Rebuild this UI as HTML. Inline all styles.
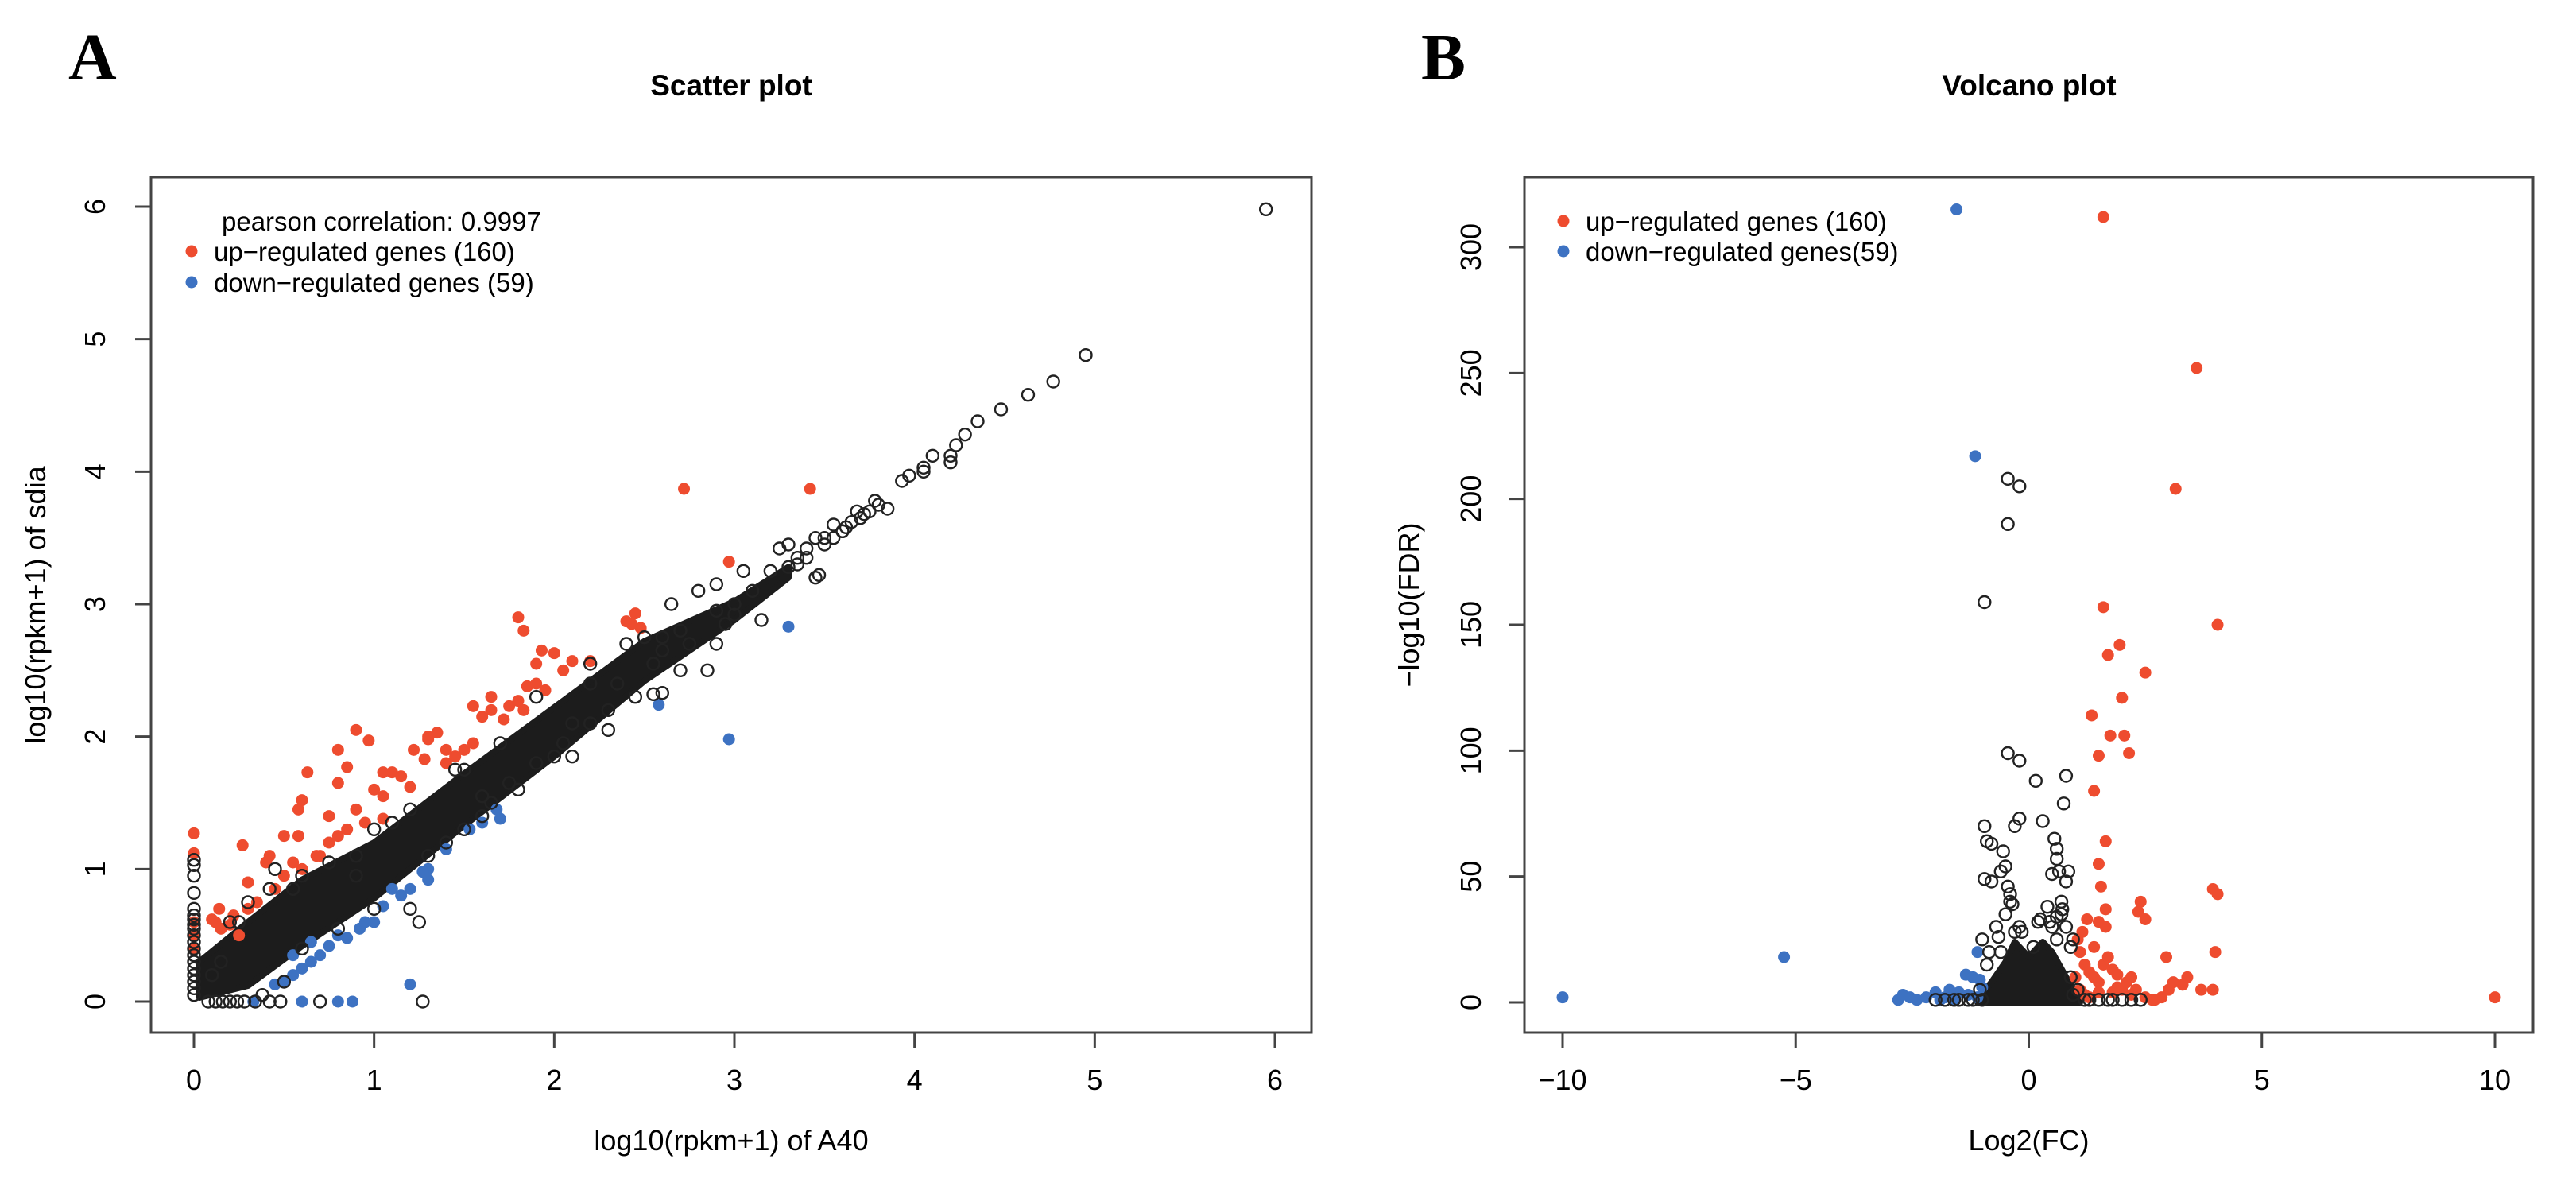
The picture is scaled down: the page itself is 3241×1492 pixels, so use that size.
<!DOCTYPE html>
<html><head><meta charset="utf-8"><style>
html,body{margin:0;padding:0;background:#fff;}
svg{display:block;font-family:"Liberation Sans",sans-serif;}
</style></head><body>
<svg id="fig" width="3241" height="1492" viewBox="0 0 3241 1492">
<text x="86" y="100" font-family="Liberation Serif,serif" font-weight="bold" font-size="84">A</text>
<text x="1788" y="100" font-family="Liberation Serif,serif" font-weight="bold" font-size="84">B</text>
<text x="920" y="120" text-anchor="middle" font-weight="bold" font-size="37">Scatter plot</text>
<text x="2553" y="120" text-anchor="middle" font-weight="bold" font-size="37">Volcano plot</text>
<g id="pa"></g>
<g id="pb"></g>
</svg>
<script>
// ---------- Panel A data ----------
const aXTicks=[0,1,2,3,4,5,6];
const aYTicks=[0,1,2,3,4,5,6];
const aBandX=[0.03,0.3,0.6,1.0,1.5,2.0,2.5,3.0,3.3];
const aBandLo=[0.03,0.12,0.42,0.78,1.33,1.85,2.42,2.88,3.2];
const aBandHi=[0.3,0.6,0.92,1.2,1.72,2.22,2.72,3.02,3.28];
const aBlackX=[5.95,4.95,4.77,4.63,4.48,4.35,4.28,4.23,4.2,4.2,4.1,4.05,4.05,3.97,3.93,3.8,3.75,3.85,3.7,3.6,3.55,3.5,3.45,3.3,3.25,3.4,3.35,3.45,3.47,3.15,3.0,2.85,2.55,2.6,2.45,2.3,2.2,2.0,1.9,1.75,1.65,1.5,1.3,1.25,1.2,1.27,2.65,2.8,2.9,3.05,2.4,2.5,2.2,1.5,1.7,1.1,0.9,0.75,0.55,0.9,0.45,0.42,0,0,0,0,0,0,0,0,0,0,0,0,0,0,0,0,0,0,0,0.08,0.12,0.16,0.2,0.24,0.28,0.34,0.42,0.48,0.7,
 3.35,3.5,3.6,3.65,3.72,3.78,3.4,3.3,3.55,3.62,3.68,3.2,3.1,3.0,2.9,2.75,2.7,2.6,2.35,2.1,2.55,2.95,1.8,2.1,2.3,1.6,1.4,1.0,0.8,0.6,2.7,2.9,1.0,1.2,0.6,0.3,0.2,2.2,2.6,1.9,1.45,0.15,0.1,0.38,0.5,0.25,1.6,2.05];
const aBlackY=[5.98,4.88,4.68,4.58,4.47,4.38,4.28,4.2,4.12,4.07,4.12,4.0,4.03,3.97,3.93,3.75,3.7,3.72,3.65,3.55,3.6,3.5,3.5,3.45,3.42,3.35,3.3,3.2,3.22,2.88,2.92,2.5,2.32,2.33,2.3,2.2,2.1,1.85,1.8,1.65,1.5,1.3,1.1,0.6,0.7,0.0,3.0,3.1,3.15,3.25,2.7,2.75,2.55,1.75,1.95,1.35,1.1,1.05,0.85,0.95,1.0,0.85,1.07,1.03,0.95,0.82,0.7,0.62,0.55,0.45,0.35,0.25,0.2,0.15,0.1,0.05,0.3,0.4,0.5,0.58,0.65,0,0,0,0,0,0,0,0,0,0,
 3.35,3.45,3.55,3.62,3.68,3.78,3.42,3.28,3.5,3.58,3.7,3.25,3.1,3.0,2.95,2.7,2.8,2.65,2.4,2.1,2.55,2.85,1.6,1.85,2.05,1.4,1.2,0.7,0.55,0.4,2.5,2.7,1.3,1.45,0.95,0.75,0.6,2.4,2.75,2.3,1.75,0.3,0.2,0.05,0.15,0.6,1.55,1.95];
const aRedX=[2.72,3.42,2.97,1.8,1.83,2.45,2.4,2.48,2.43,1.93,2.0,2.2,2.1,2.05,1.9,1.65,1.55,1.6,1.65,1.75,1.8,1.85,1.9,1.95,1.83,1.72,0.9,0.97,1.3,1.35,1.3,1.22,1.28,1.4,0.8,0.85,1.05,1.1,0.63,0.6,0.58,0.8,1.0,1.05,1.15,1.2,0.75,0.9,0.95,1.05,0.5,0.58,0.42,0.4,0.27,0.3,0.55,0.6,0.68,0.75,0,0,0,0,0,0.12,0.1,0.14,0.15,0.2,0.22,0.25,0.3,0.35,0.45,0.5,0.7,0.8,0.85,1.4,1.5,1.55,1.45];
const aRedY=[3.87,3.87,3.32,2.9,2.8,2.93,2.87,2.82,2.85,2.65,2.63,2.57,2.57,2.5,2.55,2.3,2.23,2.15,2.2,2.23,2.27,2.38,2.4,2.35,2.2,2.13,2.05,1.97,2.0,2.03,1.98,1.9,1.83,1.9,1.9,1.77,1.73,1.73,1.73,1.52,1.45,1.65,1.6,1.55,1.7,1.62,1.4,1.45,1.35,1.38,1.25,1.25,1.1,1.05,1.18,0.9,1.05,1.0,1.1,1.2,1.27,1.12,0.6,0.5,0.4,0.6,0.62,0.7,0.55,0.58,0.65,0.5,0.7,0.75,0.85,0.95,1.1,1.25,1.3,1.8,1.9,1.95,1.85];
const aBlueX=[3.3,2.97,2.58,1.2,0.88,0.8,0.6,0.33,1.53,1.6,1.7,1.68,1.4,1.3,1.27,1.3,1.1,1.05,1.0,0.92,0.95,0.8,0.75,0.7,0.65,0.6,0.55,0.5,0.45,0.55,0.65,0.85,1.2,1.15];
const aBlueY=[2.83,1.98,2.24,0.13,0.0,0.0,0.0,0.0,1.3,1.35,1.38,1.45,1.15,1.0,0.98,0.92,0.85,0.72,0.6,0.55,0.6,0.5,0.42,0.35,0.3,0.25,0.2,0.15,0.13,0.35,0.45,0.48,0.85,0.8];
// ---------- Panel B data ----------
const bXTicks=[-10,-5,0,5,10];
const bYTicks=[0,50,100,150,200,250,300];
const bCoreX=[-1.1,-0.8,-0.5,-0.3,0,0.3,0.5,0.8,1.1];
const bCoreTop=[1,8,16,24,18,24,20,10,1];
const bBlackX=[-0.45,-0.2,-0.45,-0.95,-0.45,-0.2,0.15,0.8,0.75,-0.95,-0.3,-0.2,0.3,0.55,0.6,-0.9,-0.8,-0.55,-0.5,-0.6,0.6,0.5,0.65,0.85,0.8,-0.95,-0.8,-0.45,-0.4,-0.4,-0.35,0.7,0.72,0.6,0.25,0.2,-1.0,-0.65,-0.2,-0.15,0.5,0.9,0.95,-1.8,-2,-1.5,-1.2,1.2,1.5,2,2.4,1.8,-1.0,0.95,-0.85,
 -0.9,-0.7,0.8,0.9,-1.05,1.05,-0.5,0.4,0.7,-0.6,0.6,-0.3,0.1,0.45,-1.3,1.3,-1.6,1.7,2.2];
const bBlackY=[208,205,190,159,99,96,88,90,79,70,70,73,72,65,61,64,63,60,54,52,57,51,52,52,48,49,48,46,43,40,39,40,37,34,33,32,25,26,30,28,30,22,25,1,1,1,1,1,1,1,1,1,1,3,20,
 15,30,30,10,5,5,35,38,35,20,25,28,22,32,1,1,1,1,1];
const bRedX=[1.6,3.6,3.15,1.6,4.05,1.95,1.7,2.5,2.0,1.35,1.75,2.05,1.5,2.15,1.4,1.65,1.5,1.55,3.95,4.05,2.4,2.35,1.65,2.5,1.25,1.5,1.65,4.0,2.95,3.4,3.3,3.95,3.7,3.1,3.0,2.85,2.65,2.7,10,1.1,1.2,1.3,1.4,1.5,1.6,1.7,1.8,1.9,2.0,2.1,2.2,1.1,1.2,1.3,1.5,1.8,1.0,1.05,1.15,1.4,2.3,2.5,2.2,1.9];
const bRedY=[312,252,204,157,150,142,138,131,121,114,106,106,98,99,84,64,55,46,45,43,40,36,37,33,33,32,30,20,18,10,7,5,5,8,5,2,1,1,2,20,15,12,10,8,15,18,13,11,5,8,3,5,3,2,4,4,10,25,28,22,5,2,10,6];
const bBlueX=[-1.55,-1.15,-5.25,-10,-1.1,-1.35,-1.2,-1.05,-2.7,-2.55,-2.4,-2.2,-2.0,-1.8,-1.7,-1.5,-1.3,-2.8,-1.1,-1.0,-1.6,-1.9];
const bBlueY=[315,217,18,2,20,11,10,9,3,2,1,2,4,2,5,4,3,1,2,6,1,1];

const NS="http://www.w3.org/2000/svg";
const RED="#ee4c2f", BLUE="#3d72c2";
function mk(parent,tag,attrs){const e=document.createElementNS(NS,tag);for(const k in attrs)e.setAttribute(k,attrs[k]);parent.appendChild(e);return e;}

function panel(g,box,xd,yd,xt,yt,xlab,ylab,ylabX,ytickX){
  const sx=v=>box.x0+(v-xd[0])/(xd[1]-xd[0])*(box.x1-box.x0);
  const sy=v=>box.y0+(v-yd[0])/(yd[1]-yd[0])*(box.y1-box.y0);
  const frame=mk(g,'rect',{x:box.l,y:box.t,width:box.r-box.l,height:box.b-box.t,fill:'none',stroke:'#444','stroke-width':3});
  
  
  xt.forEach(t=>{
    const l=mk(g,'line',{x1:sx(t),x2:sx(t),y1:box.b,y2:box.b+20,stroke:'#444','stroke-width':3});
    
    
    const tx=mk(g,'text',{x:sx(t),y:1371,'text-anchor':'middle','font-size':36});
    tx.textContent=String(t).replace('-','\u2212');
    
    
  });
  yt.forEach(t=>{
    const l=mk(g,'line',{x1:box.l-20,x2:box.l,y1:sy(t),y2:sy(t),stroke:'#444','stroke-width':3});
    
    
    const tx=mk(g,'text',{x:ytickX,y:sy(t),'text-anchor':'middle','font-size':36,transform:`rotate(-90 ${ytickX} ${sy(t)})`});
    tx.textContent=String(t);
    
    
  });
  const xl=mk(g,'text',{x:(box.l+box.r)/2,y:1447,'text-anchor':'middle','font-size':36});
  xl.textContent=xlab;
  
  
  const cy=(box.t+box.b)/2;
  const yl=mk(g,'text',{x:ylabX,y:cy,'text-anchor':'middle','font-size':36,transform:`rotate(-90 ${ylabX} ${cy})`});
  yl.textContent=ylab;
  
  
  return {sx,sy};
}
function pts(g,X,Y,sx,sy,kind,name){
  X.forEach((x,i)=>{
    let c;
    if(kind==='open') c=mk(g,'circle',{cx:sx(x),cy:sy(Y[i]),r:7.5,fill:'none',stroke:'#222','stroke-width':2.4});
    else c=mk(g,'circle',{cx:sx(x),cy:sy(Y[i]),r:7.5,fill:kind});
    
    
  });
}
function legend(g,x,y,txt,col,name){
  if(col){const d=mk(g,'circle',{cx:x-28,cy:y,r:7.5,fill:col});
    
    }
  const t=mk(g,'text',{x:x,y:y+12,'font-size':33});
  t.textContent=txt;
  
  
}

// Panel A
const ga=document.getElementById('pa');
const A=panel(ga,{l:190,r:1650,t:223,b:1299,x0:244,x1:1604,y0:1260,y1:260},[0,6],[0,6],aXTicks,aYTicks,
  'log10(rpkm+1) of A40','log10(rpkm+1) of sdia',57,132);
let ptsStr=aBandX.map((x,i)=>A.sx(x)+','+A.sy(aBandHi[i])).concat(aBandX.slice().reverse().map((x,i)=>A.sx(x)+','+A.sy(aBandLo[aBandX.length-1-i]))).join(' ');
const bandA=mk(ga,'polygon',{points:ptsStr,fill:'#1c1c1c',stroke:'#1c1c1c','stroke-width':8,'stroke-linejoin':'round'});


pts(ga,aRedX,aRedY,A.sx,A.sy,RED,'up-regulated-point');
pts(ga,aBlueX,aBlueY,A.sx,A.sy,BLUE,'down-regulated-point');
pts(ga,aBlackX,aBlackY,A.sx,A.sy,'open','gene-point');
legend(ga,279,278,'pearson correlation: 0.9997',null,'legend-correlation');
legend(ga,269,316,'up\u2212regulated genes (160)',RED,'legend-up');
legend(ga,269,355,'down\u2212regulated genes (59)',BLUE,'legend-down');

// Panel B
const gb=document.getElementById('pb');
const B=panel(gb,{l:1918,r:3187,t:223,b:1299,x0:1966,x1:3139,y0:1261,y1:311},[-10,10],[0,300],bXTicks,bYTicks,
  'Log2(FC)','\u2212log10(FDR)',1785,1863);
let ptsB=bCoreX.map((x,i)=>B.sx(x)+','+B.sy(bCoreTop[i])).concat(bCoreX.slice().reverse().map(x=>B.sx(x)+','+B.sy(0))).join(' ');
const coreB=mk(gb,'polygon',{points:ptsB,fill:'#1c1c1c',stroke:'#1c1c1c','stroke-width':8,'stroke-linejoin':'round'});


pts(gb,bRedX,bRedY,B.sx,B.sy,RED,'up-regulated-point');
pts(gb,bBlueX,bBlueY,B.sx,B.sy,BLUE,'down-regulated-point');
pts(gb,bBlackX,bBlackY,B.sx,B.sy,'open','gene-point');
legend(gb,1995,278,'up\u2212regulated genes (160)',RED,'legend-up');
legend(gb,1995,316,'down\u2212regulated genes(59)',BLUE,'legend-down');
</script>
</body></html>
